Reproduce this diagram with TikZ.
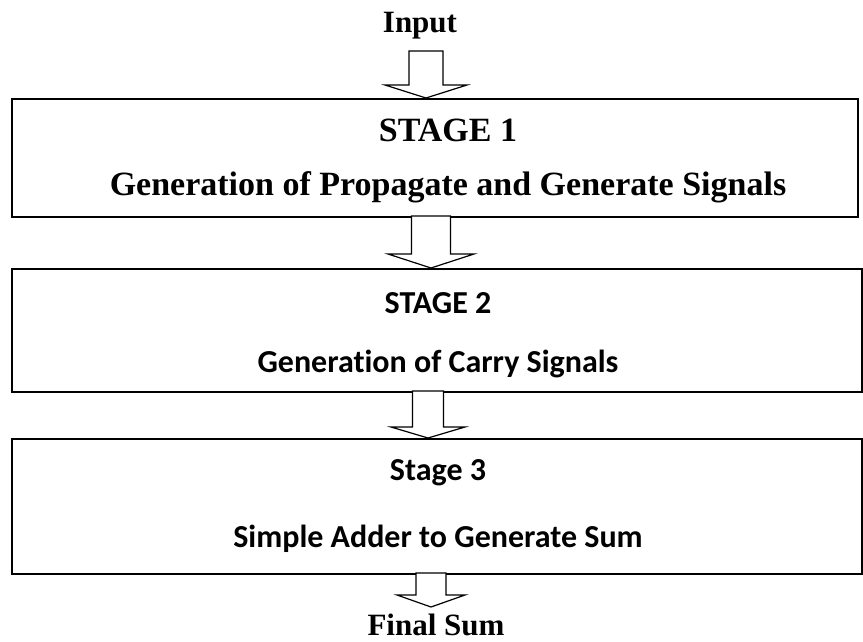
\documentclass[tikz,border=0pt]{standalone}
\usepackage{fontspec}
\setmainfont{Liberation Serif}
\newfontfamily\calibri[Ligatures=NoCommon]{Carlito}
\begin{document}
\begin{tikzpicture}[x=1pt,y=-1pt,
  stagebox/.style={draw=black,line width=2pt,fill=white,inner sep=0pt,anchor=north west},
  tnr/.style={font=\fontsize{34}{40}\selectfont\bfseries,anchor=base,inner sep=0pt},
  tnrs/.style={font=\fontsize{31}{37}\selectfont\bfseries,anchor=base,inner sep=0pt},
  cal/.style={font=\fontsize{32}{38}\selectfont\calibri\bfseries,anchor=base,inner sep=0pt},
  arrline/.style={draw=black,line width=1.2pt,fill=white,line join=miter},
  pics/blockarrow/.style n args={4}{code={
    \draw[arrline] (-#1,0) -- (-#1,#3) -- (-#2,#3) -- (0,#3+#4) -- (#2,#3) -- (#1,#3) -- (#1,0) -- cycle;
  }}]
\useasboundingbox (0,0) rectangle (863,641);
% boxes
\node[stagebox,minimum width=846pt,minimum height=118pt] (s1) at (11,98) {};
\node[stagebox,minimum width=850pt,minimum height=123pt] (s2) at (11,268) {};
\node[stagebox,minimum width=850pt,minimum height=135pt] (s3) at (11,438) {};
% texts
\node[tnrs] (in) at (420,32) {Input};
\node[tnr] (s1a) at (448,141) {STAGE 1};
\node[tnr] (s1b) at (448,195) {Generation of Propagate and Generate Signals};
\node[cal] (s2a) at (438,313) {STAGE 2};
\node[cal] (s2b) at (438,372) {Generation of Carry Signals};
\node[cal] (s3a) at (438,480) {Stage 3};
\node[cal] (s3b) at (438,547) {Simple Adder to Generate Sum};
\node[tnrs] (fs) at (436,635) {Final Sum};
% block arrows
\coordinate (a0) at (426,51);
\coordinate (a1) at (431,216);
\coordinate (a2) at (428,391);
\coordinate (a3) at (431,573);
\pic at (a0) {blockarrow={17}{41}{34}{13}};
\pic at (a1) {blockarrow={19.5}{43}{38}{14}};
\pic at (a2) {blockarrow={15.5}{37}{36}{11}};
\pic at (a3) {blockarrow={15}{34}{22}{12}};
\end{tikzpicture}
\end{document}
